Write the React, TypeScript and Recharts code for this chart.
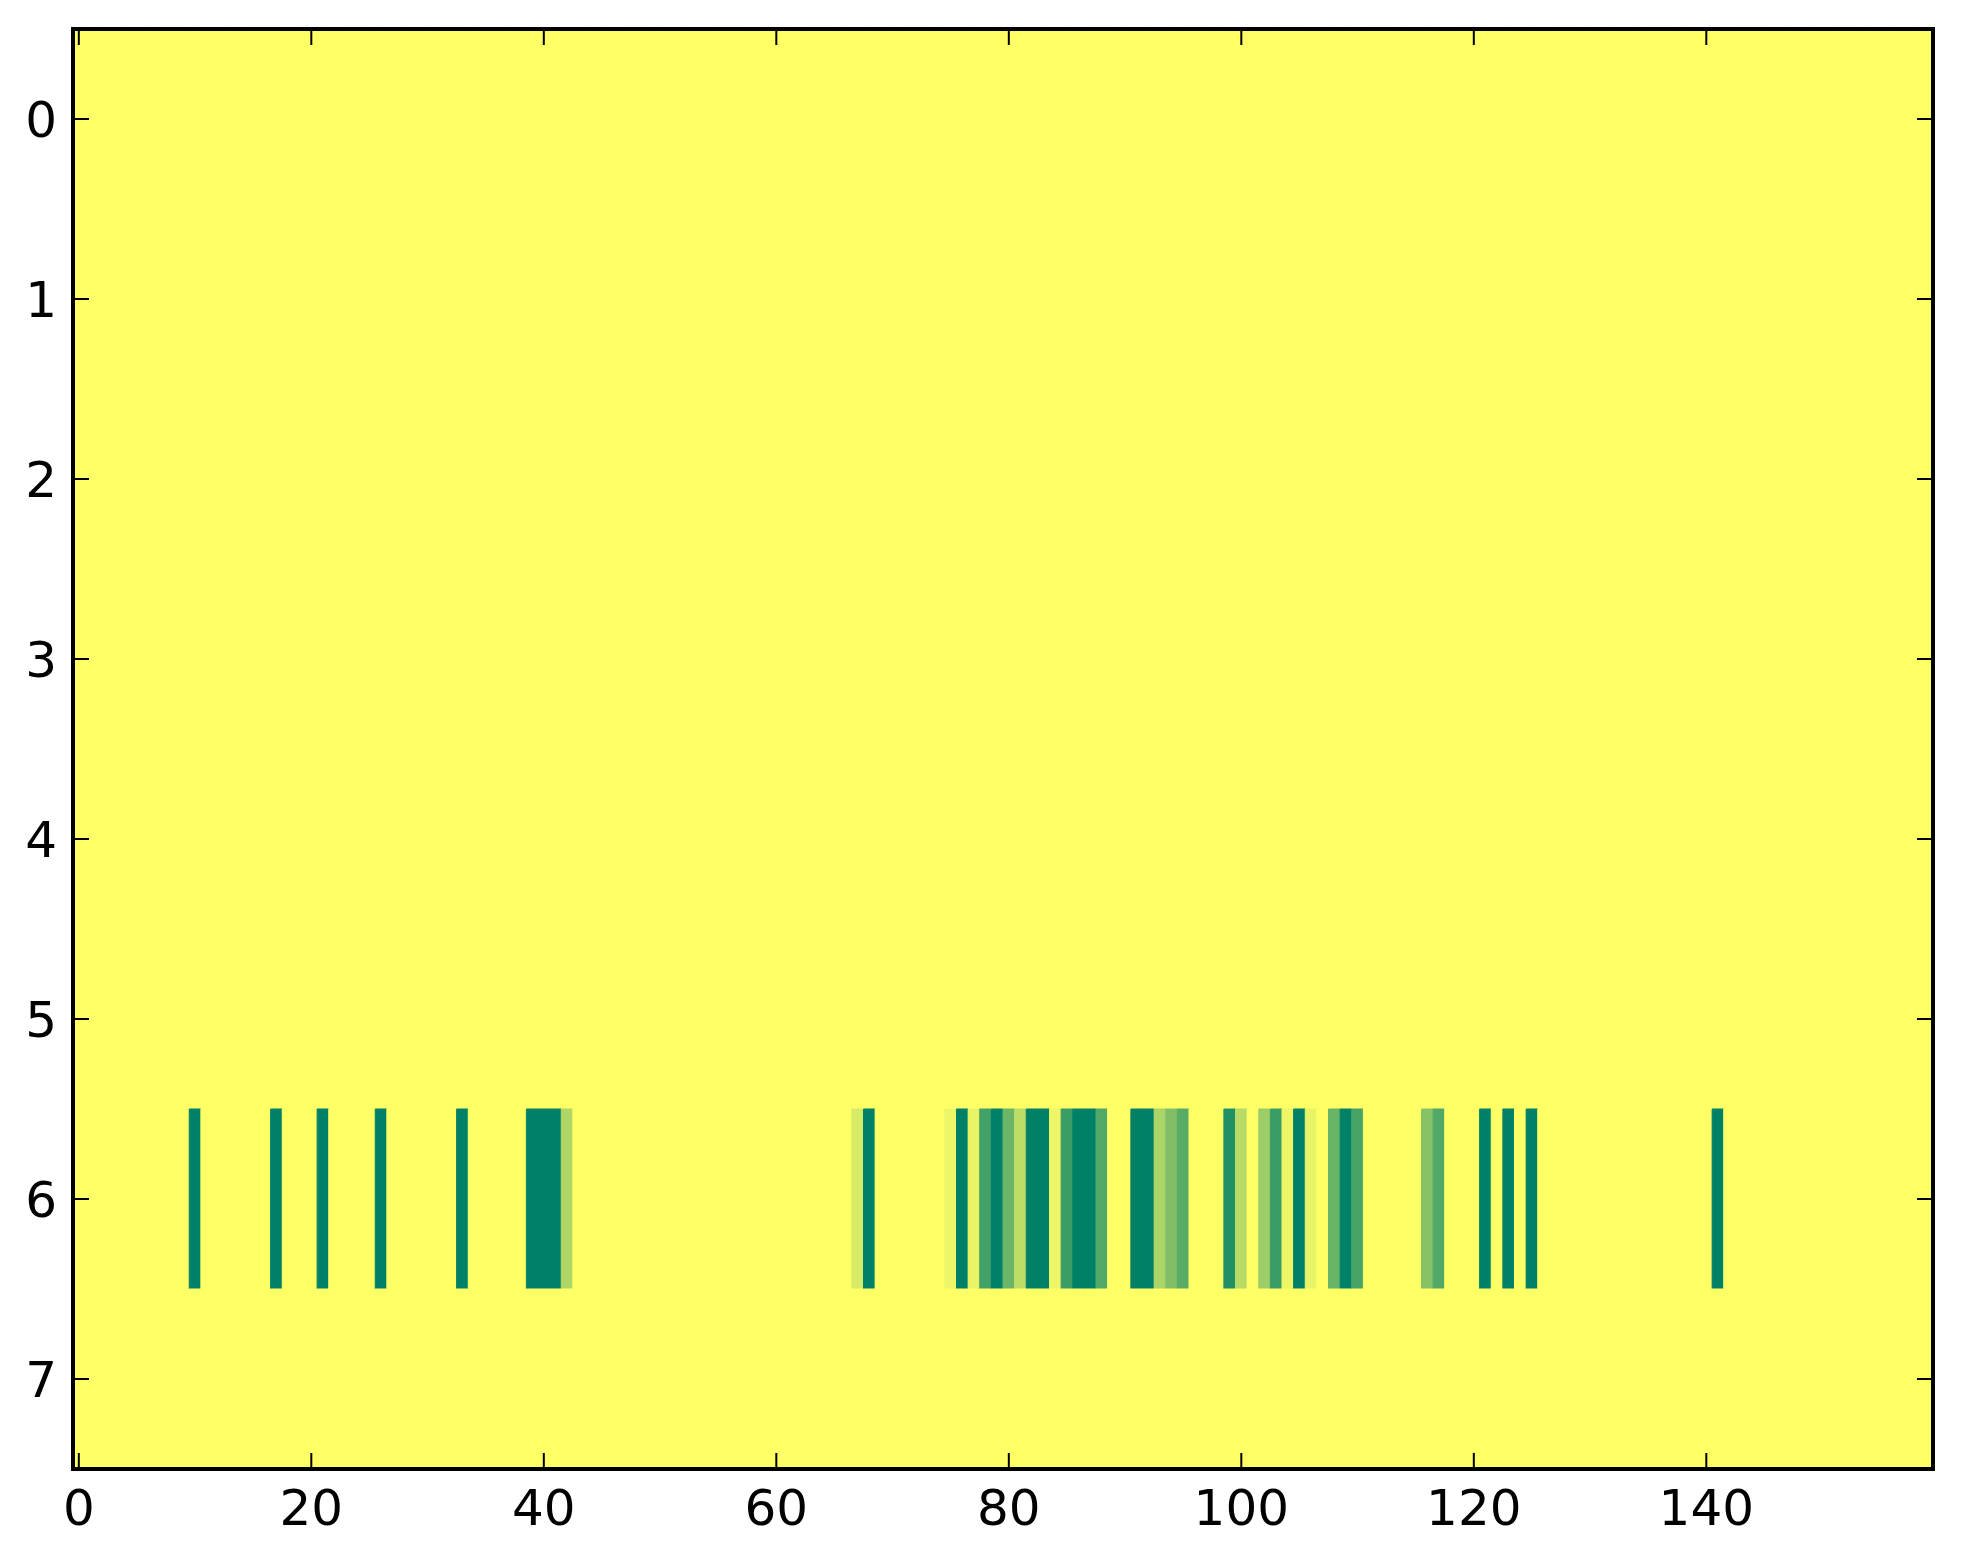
import React from 'react';
import { BarChart, Bar, XAxis, YAxis, Cell } from 'recharts';

// ---- data ----
const columnCount = 160;
const columns: number[] = Array.from({ length: columnCount }, (_, i) => i);
const rowLabels: number[] = [0, 1, 2, 3, 4, 5, 6, 7];
const xTickValues: number[] = [0, 20, 40, 60, 80, 100, 120, 140];

// Only row 6 holds non-zero values (all other cells are 0 = yellow)
const activeRow = 6;
const activeCols: number[] = [
  10, 17, 21, 26, 33, 39, 40, 41, 42,
  67, 68, 75, 76, 77, 78, 79, 80, 81, 82, 83, 84, 85, 86, 87, 88,
  91, 92, 93, 94, 95, 99, 100, 102, 103, 104, 105, 106, 108, 109, 110,
  116, 117, 121, 123, 125, 141,
];
const activeVals: number[] = [
  1, 1, 1, 1, 1, 1, 1, 1, 0.31,
  0.16, 1, 0.07, 1, 0.09, 0.74, 1, 0.58, 0.26, 1, 1, 0.07, 0.77, 1, 1, 0.68,
  1, 1, 0.33, 0.5, 0.65, 0.87, 0.28, 0.39, 0.77, 0.07, 1, 0.09, 0.59, 1, 0.72,
  0.47, 0.68, 1, 1, 1, 1,
];

// grid[row][col]
const grid: number[][] = rowLabels.map((r) =>
  columns.map((c) => {
    if (r !== activeRow) return 0;
    const k = activeCols.indexOf(c);
    return k >= 0 ? activeVals[k] : 0;
  })
);

// chart table: each cell is a stacked segment of height 1
const tableData = columns.map((c) => {
  const o: Record<string, number> = { col: c };
  rowLabels.forEach((r) => {
    o[`r${r}`] = 1;
  });
  return o;
});

// matplotlib "summer_r" colormap
const summerR = (v: number) => {
  const r = Math.round(255 * (1 - v));
  const g = Math.round(255 * (1 - 0.5 * v));
  return `rgb(${r},${g},102)`;
};

const W = 1963;
const H = 1564;
const M = { top: 29, right: 30, left: 0, bottom: 0 };
const Y_AXIS_W = 73;
const X_AXIS_H = 95;
const PLOT_W = W - M.left - M.right - Y_AXIS_W;
const PLOT_H = H - M.top - M.bottom - X_AXIS_H;
const TICK_LEN = 16;
const FONT = '"DejaVu Sans", sans-serif';

const XTick = (props: any) => {
  const { x, y, payload } = props;
  return (
    <g>
      <line x1={x} x2={x} y1={y} y2={y - TICK_LEN} stroke="#000" strokeWidth={2} />
      <line x1={x} x2={x} y1={y - PLOT_H} y2={y - PLOT_H + TICK_LEN} stroke="#000" strokeWidth={2} />
      <text x={x} y={y + 56} textAnchor="middle" fontFamily={FONT} fontSize={50} fill="#000">
        {payload.value}
      </text>
    </g>
  );
};

const YTick = (props: any) => {
  const { x, y, index } = props;
  const rowH = PLOT_H / rowLabels.length;
  return (
    <g>
      {index === 0 && (
        <rect
          x={x}
          y={y - rowH / 2}
          width={PLOT_W}
          height={PLOT_H}
          fill="none"
          stroke="#000"
          strokeWidth={4}
        />
      )}
      <line x1={x} x2={x + TICK_LEN} y1={y} y2={y} stroke="#000" strokeWidth={2} />
      <line x1={x + PLOT_W} x2={x + PLOT_W - TICK_LEN} y1={y} y2={y} stroke="#000" strokeWidth={2} />
      <text x={x - 16} y={y + 18} textAnchor="end" fontFamily={FONT} fontSize={50} fill="#000">
        {rowLabels[index]}
      </text>
    </g>
  );
};

export default function App() {
  return (
    <div style={{ position: 'absolute', left: 0, top: 0, width: W, height: H, background: '#fff' }}>
      <BarChart
        width={W}
        height={H}
        data={tableData}
        margin={M}
        barCategoryGap={0}
        barGap={0}
      >
        {rowLabels.map((r) => (
          <Bar
            key={r}
            dataKey={`r${r}`}
            stackId="grid"
            barSize={PLOT_W / columnCount - 0.005}
            isAnimationActive={false}
          >
            {columns.map((c) => (
              <Cell
                key={c}
                fill={summerR(grid[r][c])}
                stroke={summerR(grid[r][c])}
                strokeWidth={1}
              />
            ))}
          </Bar>
        ))}
        <XAxis
          dataKey="col"
          type="category"
          ticks={xTickValues}
          interval={0}
          height={X_AXIS_H}
          tickSize={0}
          tickMargin={0}
          tickLine={false}
          tick={<XTick />}
          axisLine={{ stroke: '#000', strokeWidth: 4 }}
        />
        <YAxis
          type="number"
          domain={[0, 8]}
          reversed
          allowDataOverflow
          ticks={rowLabels.map((r) => r + 0.5)}
          interval={0}
          width={Y_AXIS_W}
          tickSize={0}
          tickMargin={0}
          tickLine={false}
          tick={<YTick />}
          axisLine={{ stroke: '#000', strokeWidth: 4 }}
        />
      </BarChart>
    </div>
  );
}
